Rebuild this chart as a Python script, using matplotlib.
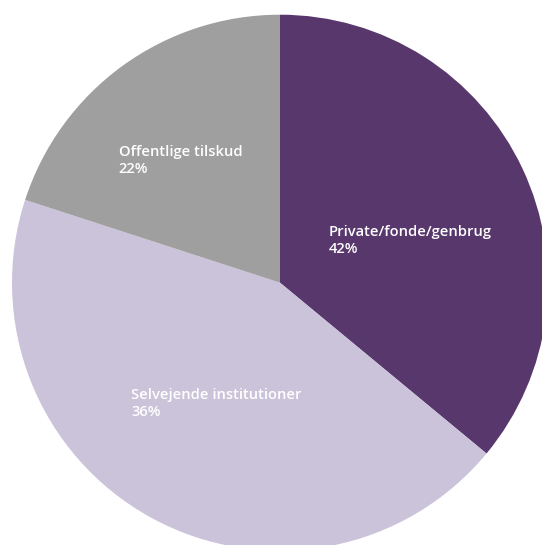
import matplotlib
matplotlib.use("Agg")
import matplotlib.pyplot as plt

# Data (slice shares as drawn, clockwise from 12 o'clock)
categories = ["Private/fonde/genbrug", "Selvejende institutioner", "Offentlige tilskud"]
values = [36, 44, 20]
pct_labels = ["42%", "36%", "22%"]
colors = ["#58376d", "#cbc3d9", "#9f9f9f"]

W, H = 542, 545
fig = plt.figure(figsize=(W / 100, H / 100), dpi=100)
ax = fig.add_axes([0, 0, 1, 1])

cx, cy, r = 280, 282.7, 268
ax.pie(values, colors=colors, startangle=90, counterclock=False,
       center=(cx, H - cy), radius=r, frame=True,
       wedgeprops=dict(linewidth=0))
ax.set_xlim(0, W)
ax.set_ylim(0, H)
ax.set_aspect("equal")
ax.axis("off")

# label positions (left, first baseline) in pixels from top-left
label_pos = [(328.5, 235.7), (131, 399), (118.8, 155.7)]
line_gap = 17.3
for name, pct, (x, y) in zip(categories, pct_labels, label_pos):
    for i, s in enumerate([name, pct]):
        ax.text(x, H - (y + i * line_gap), s, color="white", fontsize=10.6,
                family="Open Sans", fontweight="semibold",
                ha="left", va="baseline")

fig.savefig("out.png", dpi=100)
